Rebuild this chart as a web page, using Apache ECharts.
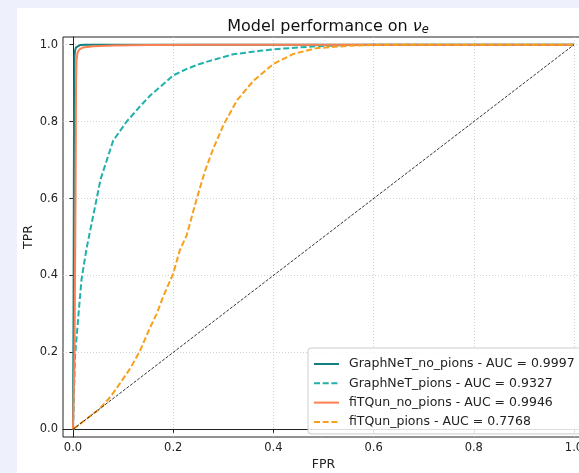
<!DOCTYPE html>
<html>
<head>
<meta charset="utf-8">
<script src="https://cdn.jsdelivr.net/npm/echarts@6/dist/echarts.min.js"></script>
<style>
html,body{margin:0;padding:0;background:#eef0fb;}
#chart{width:579px;height:473px;}
</style>
</head>
<body>
<div id="chart"></div>
<script>
// ---- data ----
const tickValues = [0, 0.2, 0.4, 0.6, 0.8, 1.0];
const seriesNames = [
  'GraphNeT_no_pions - AUC = 0.9997',
  'GraphNeT_pions - AUC = 0.9327',
  'fiTQun_no_pions - AUC = 0.9946',
  'fiTQun_pions - AUC = 0.7768'
];
const gnNoPionsFPR = [0, 0.001, 0.002, 0.003, 0.004, 0.006, 0.009, 0.014, 0.025, 1.0];
const gnNoPionsTPR = [0, 0.30, 0.80, 0.970, 0.985, 0.993, 0.997, 0.999, 1.0, 1.0];

const gnPionsFPR = [0, 0.002, 0.004, 0.011, 0.017, 0.027, 0.041, 0.055, 0.08, 0.107, 0.134, 0.154, 0.174, 0.20, 0.227, 0.253, 0.273, 0.32, 0.373, 0.40, 0.486, 0.55, 0.60, 1.0];
const gnPionsTPR = [0, 0.10, 0.19, 0.30, 0.39, 0.47, 0.56, 0.65, 0.75, 0.80, 0.84, 0.868, 0.89, 0.92, 0.937, 0.95, 0.958, 0.975, 0.984, 0.988, 0.996, 0.999, 1.0, 1.0];

const ftNoPionsFPR = [0, 0.003, 0.005, 0.006, 0.007, 0.009, 0.013, 0.02, 0.04, 0.08, 0.15, 0.25, 1.0];
const ftNoPionsTPR = [0, 0.20, 0.60, 0.90, 0.96, 0.98, 0.988, 0.993, 0.996, 0.998, 0.999, 1.0, 1.0];

const ftPionsFPR = [0, 0.03, 0.054, 0.075, 0.094, 0.115, 0.134, 0.154, 0.167, 0.18, 0.20, 0.213, 0.227, 0.247, 0.263, 0.28, 0.30, 0.327, 0.36, 0.40, 0.44, 0.486, 0.55, 0.62, 1.0];
const ftPionsTPR = [0, 0.03, 0.054, 0.085, 0.12, 0.16, 0.205, 0.265, 0.30, 0.345, 0.405, 0.465, 0.505, 0.60, 0.67, 0.73, 0.79, 0.855, 0.906, 0.95, 0.976, 0.991, 0.997, 1.0, 1.0];

const chanceFPR = [0, 1];
const chanceTPR = [0, 1];

function pairs(xs, ys) { return xs.map((x, i) => [x, ys[i]]); }

const FONT = 'DejaVu Sans';
const chart = echarts.init(document.getElementById('chart'), null, {renderer: 'canvas'});

function axisCommon() {
  return {
    type: 'value',
    min: -0.02,
    max: 1.02,
    nameMoveOverlap: false,
    axisLine: {show: true, lineStyle: {color: '#222', width: 1}},
    axisTick: {show: true, inside: false, length: 3.5, customValues: tickValues, lineStyle: {color: '#222', width: 1}},
    axisLabel: {show: true, customValues: tickValues, formatter: v => Number(v).toFixed(1), color: '#222', fontFamily: FONT, fontSize: 11.5, margin: 5},
    splitLine: {show: true, lineStyle: {color: '#c4c4c4', width: 0.8, type: [1, 2]}}
  };
}

const option = {
  backgroundColor: '#eef0fb',
  animation: false,
  graphic: [{
    type: 'rect', z: -10, silent: true,
    shape: {x: 17, y: 8, width: 600, height: 500},
    style: {fill: '#ffffff'}
  }],
  title: {
    text: '{a|Model performance on }{b|ν}{c|e}',
    left: 323, top: 12, textAlign: 'center',
    textStyle: {
      fontWeight: 'normal',
      rich: {
        a: {fontFamily: FONT, fontSize: 16, fontWeight: 'normal', color: '#111'},
        b: {fontFamily: FONT, fontSize: 16, fontWeight: 'normal', fontStyle: 'italic', color: '#111'},
        c: {fontFamily: FONT, fontSize: 11.5, fontWeight: 'normal', fontStyle: 'italic', color: '#111', padding: [7, 0, 0, 0]}
      }
    }
  },
  grid: {
    left: 63, top: 37, width: 521, height: 400,
    outerBoundsMode: 'none', containLabel: false,
    show: true, backgroundColor: '#ffffff', borderColor: '#222', borderWidth: 1
  },
  xAxis: Object.assign(axisCommon(), {
    name: 'FPR', nameLocation: 'middle', nameGap: 21,
    nameTextStyle: {fontFamily: FONT, fontSize: 12.5, color: '#222'}
  }),
  yAxis: Object.assign(axisCommon(), {
    name: 'TPR', nameLocation: 'middle', nameGap: 28,
    nameTextStyle: {fontFamily: FONT, fontSize: 12.5, color: '#222'}
  }),
  legend: {
    orient: 'vertical', left: 308, top: 348,
    padding: [9, 6, 5, 5],
    itemWidth: 25, itemHeight: 14, itemGap: 5.3,
    itemStyle: {opacity: 0},
    backgroundColor: 'rgba(255,255,255,0.85)', borderColor: '#cccccc', borderWidth: 1, borderRadius: 3,
    textStyle: {fontFamily: FONT, fontSize: 12.5, color: '#222', lineHeight: 14, padding: [0, 0, 0, 5]},
    data: seriesNames
  },
  series: [
    {name: seriesNames[0], type: 'line', symbol: 'none', data: pairs(gnNoPionsFPR, gnNoPionsTPR),
     lineStyle: {color: '#11807e', width: 2}, itemStyle: {color: '#11807e'}, z: 2},
    {name: seriesNames[1], type: 'line', symbol: 'none', data: pairs(gnPionsFPR, gnPionsTPR),
     lineStyle: {color: '#20b2aa', width: 2, type: [6, 2.7]}, itemStyle: {color: '#20b2aa'}, z: 3},
    {name: seriesNames[2], type: 'line', symbol: 'none', data: pairs(ftNoPionsFPR, ftNoPionsTPR),
     lineStyle: {color: '#ff7f50', width: 2}, itemStyle: {color: '#ff7f50'}, z: 4},
    {name: seriesNames[3], type: 'line', symbol: 'none', data: pairs(ftPionsFPR, ftPionsTPR),
     lineStyle: {color: '#f8a01a', width: 2, type: [6, 2.7]}, itemStyle: {color: '#f8a01a'}, z: 5},
    {name: 'chance', type: 'line', symbol: 'none', data: pairs(chanceFPR, chanceTPR),
     lineStyle: {color: '#000', width: 0.8, type: [3, 1.5]}, z: 6}
  ]
};
chart.setOption(option);
</script>
</body>
</html>
